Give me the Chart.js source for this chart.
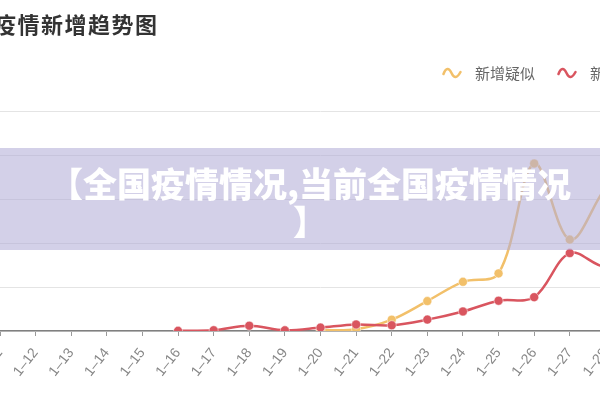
<!DOCTYPE html>
<html>
<head>
<meta charset="utf-8">
<script src="https://cdn.jsdelivr.net/npm/chart.js@4/dist/chart.umd.min.js"></script>
<style>
  html, body { margin: 0; padding: 0; width: 600px; height: 400px; overflow: hidden; background: #fff; position: relative; }
  #wrap { position: absolute; left: -20px; top: 0; width: 680px; height: 400px; }
  #title { position: absolute; left: -6px; top: 8px; font: bold 22px "Noto Sans CJK SC", sans-serif; color: #333; letter-spacing: 1.5px; white-space: nowrap; line-height: 30px; }
  .leg { position: absolute; top: 63px; font: 15px "Noto Sans CJK SC", sans-serif; color: #666; white-space: nowrap; line-height: 20px; }
  .leg svg { position: absolute; left: 0; top: 3px; }
  .leg span { position: absolute; left: 33px; top: 0; }
  #banner { position: absolute; left: 0; top: 148px; width: 600px; height: 102px; background: rgba(178,172,215,0.57); }
  #banner div { position: absolute; left: 20px; width: 580px; text-align: center; font: 900 34px "Noto Sans CJK SC", sans-serif; color: #fff; line-height: 36px; white-space: nowrap; }
</style>
</head>
<body>
<div id="wrap"><canvas id="c"></canvas></div>
<div id="title">疫情新增趋势图</div>
<div class="leg" style="left:442px;"><svg width="20" height="14"><path d="M1.5,8 C4,1.5 7,1.5 9.5,7 C12,12.5 15,12.5 18.5,6" fill="none" stroke="#f2c06a" stroke-width="2.5" stroke-linecap="round"/></svg><span>新增疑似</span></div>
<div class="leg" style="left:557px;"><svg width="20" height="14"><path d="M1.5,8 C4,1.5 7,1.5 9.5,7 C12,12.5 15,12.5 18.5,6" fill="none" stroke="#d9555f" stroke-width="2.5" stroke-linecap="round"/></svg><span>新增确诊</span></div>
<div id="banner">
  <div style="top:17px;">【全国疫情情况,当前全国疫情情况</div>
  <div style="top:55px;">】</div>
</div>
<script>
const categories = ["1–11","1–12","1–13","1–14","1–15","1–16","1–17","1–18","1–19","1–20","1–21","1–22","1–23","1–24","1–25","1–26","1–27","1–28","1–29"];
const suspected = [null,null,null,null,null,null,null,null,null,20,40,257,680,1118,1309,3806,2077,3248,4148];
const confirmed = [null,null,null,null,null,4,17,120,15,77,149,131,259,444,688,769,1771,1459,1737];
const yTicks = [0,1000,2000,3000,4000,5000];

new Chart(document.getElementById('c'), {
  type: 'line',
  data: {
    labels: categories,
    datasets: [
      { label: '新增确诊', data: confirmed, borderColor: '#d9555f', backgroundColor: '#d9555f',
        pointBackgroundColor: '#d9555f', pointBorderColor: 'rgba(255,255,255,0.5)', pointBorderWidth: 1,
        pointRadius: 4.5, borderWidth: 2.5, tension: 0.35, order: 0 },
      { label: '新增疑似', data: suspected, borderColor: '#f2c06a', backgroundColor: '#f2c06a',
        pointBackgroundColor: '#f2c06a', pointBorderColor: 'rgba(255,255,255,0.5)', pointBorderWidth: 1,
        pointRadius: 4.5, borderWidth: 2.5, tension: 0.35, order: 1 }
    ]
  },
  options: {
    responsive: true, maintainAspectRatio: false, animation: false,
    layout: { padding: { left: 20, right: 19, top: 111, bottom: 0 } },
    plugins: { legend: { display: false }, tooltip: { enabled: false } },
    scales: {
      x: {
        offset: false,
        grid: { drawOnChartArea: false, drawTicks: true, tickLength: 5, color: '#999' },
        border: { color: '#808080', width: 1.5 },
        ticks: { color: '#888', font: { size: 14, family: 'Liberation Sans, Arial, sans-serif' }, minRotation: 52, maxRotation: 52, autoSkip: false, padding: 9 },
        afterFit: (s) => { s.height = 69; s.paddingLeft = 0; s.paddingRight = 0; }
      },
      y: {
        min: yTicks[0], max: yTicks[yTicks.length - 1],
        afterBuildTicks: (s) => { s.ticks = yTicks.map(v => ({ value: v })); },
        ticks: { display: false },
        grid: { color: '#e4e4e4', lineWidth: 1, drawTicks: false },
        border: { display: false },
        afterFit: (s) => { s.width = 0; s.paddingTop = 0; s.paddingBottom = 0; }
      }
    }
  }
});
</script>
</body>
</html>
